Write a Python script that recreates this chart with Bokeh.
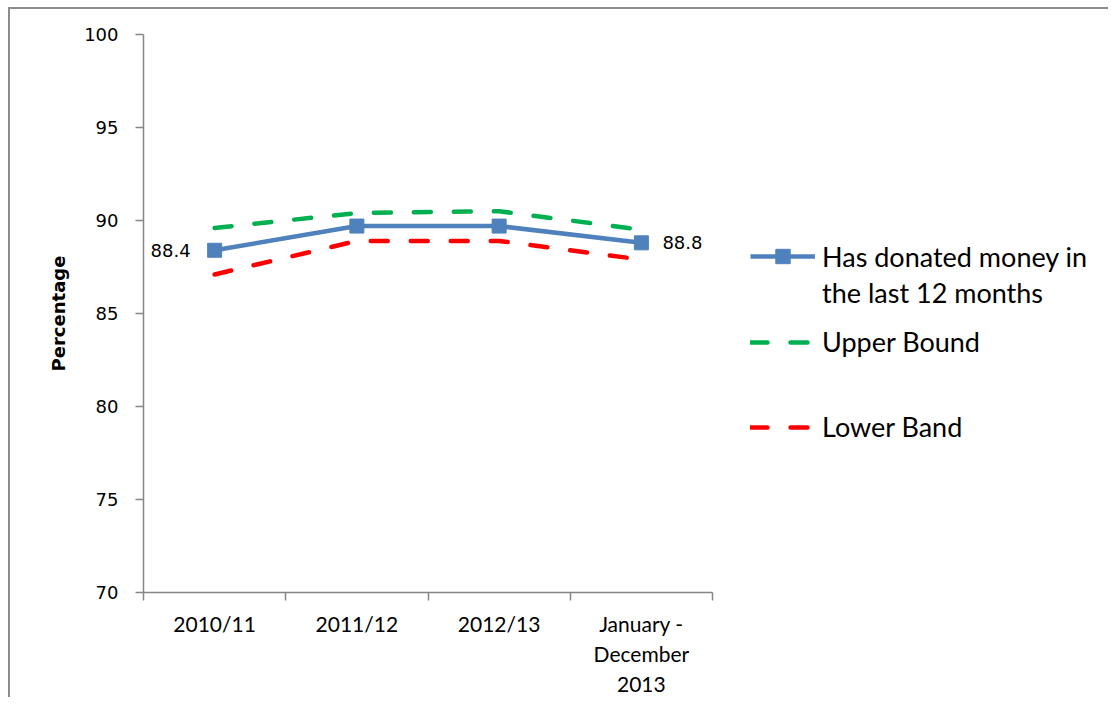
from bokeh.plotting import figure
from bokeh.models import FixedTicker, Legend, LegendItem, Range1d, ColumnDataSource
from bokeh.core.properties import value
from bokeh.embed import file_html
from bokeh.resources import INLINE

categories = ["2010/11", "2011/12", "2012/13", "January -\nDecember\n2013"]
donated = [88.4, 89.7, 89.7, 88.8]
upper = [89.6, 90.4, 90.5, 89.5]
lower = [87.1, 88.9, 88.9, 87.9]
y_ticks = [70, 75, 80, 85, 90, 95, 100]

n = len(categories)
xpos = [i + 0.5 for i in range(n)]
boundaries = list(range(n + 1))

BLUE = "#4F81BD"
GREEN = "#00B050"
RED = "#FF0000"
AXIS = "#868686"
TICK_FONT = "DejaVu Sans"
TEXT_FONT = "Lato"

# layout: category area is 569px wide; frame extends right to host the legend
CAT_AREA = 569
FRAME_W = 950
x_end = n * FRAME_W / CAT_AREA

p = figure(width=1100, height=690, output_backend="svg", toolbar_location=None,
           x_range=Range1d(0, x_end), y_range=Range1d(70, 100),
           min_border_left=133, min_border_right=17, min_border_top=25,
           min_border_bottom=107)
p.styles = {"margin-left": "8px", "margin-top": "7px",
            "border-left": "2px solid #8c8c8c", "border-top": "2px solid #8c8c8c"}
p.outline_line_color = None
p.grid.visible = False
p.background_fill_color = "white"
p.border_fill_color = "white"

r_up = p.line(xpos, upper, line_color=GREEN, line_width=4.5, line_dash="17 23", line_cap="round")
r_lo = p.line(xpos, lower, line_color=RED, line_width=4.5, line_dash="17 23", line_cap="round")
r_blue = p.line(xpos, donated, line_color=BLUE, line_width=4.5)
r_sq = p.scatter(xpos, donated, marker="square", size=14, color=BLUE)
r_inv = p.line(xpos, donated, line_alpha=0)

# data labels for first and last point
lab_src = ColumnDataSource(dict(x=[xpos[0]], y=[donated[0]], t=[f"{donated[0]}"]))
p.text(x="x", y="y", text="t", source=lab_src, x_offset=-24, text_align="right",
       text_baseline="middle", text_font=value(TICK_FONT), text_font_size="18px",
       text_color="#000000")
lab_src2 = ColumnDataSource(dict(x=[xpos[-1]], y=[donated[-1]], t=[f"{donated[-1]}"]))
p.text(x="x", y="y", text="t", source=lab_src2, x_offset=21, text_align="left",
       text_baseline="middle", text_font=value(TICK_FONT), text_font_size="18px",
       text_color="#000000")

# y axis
ya = p.yaxis[0]
ya.ticker = FixedTicker(ticks=y_ticks)
ya.axis_line_color = AXIS
ya.axis_line_width = 1.5
ya.major_tick_line_color = AXIS
ya.major_tick_line_width = 1.5
ya.major_tick_out = 8
ya.major_tick_in = 0
ya.minor_tick_line_color = None
ya.major_label_text_font = TICK_FONT
ya.major_label_text_font_size = "18px"
ya.major_label_text_color = "#000000"
ya.major_label_standoff = 17
ya.axis_label = "Percentage"
ya.axis_label_text_font = TICK_FONT
ya.axis_label_text_font_size = "18px"
ya.axis_label_text_font_style = "bold"
ya.axis_label_text_color = "#000000"
ya.axis_label_standoff = 12

# x axis: labels at category centres, ticks at boundaries
xa = p.xaxis[0]
xa.bounds = (0, n)
xa.ticker = FixedTicker(ticks=xpos, minor_ticks=boundaries)
xa.major_label_overrides = {x: c for x, c in zip(xpos, categories)}
xa.axis_line_color = AXIS
xa.axis_line_width = 1.5
xa.major_tick_line_color = None
xa.major_tick_out = 0
xa.major_tick_in = 0
xa.minor_tick_line_color = AXIS
xa.minor_tick_line_width = 1.5
xa.minor_tick_out = 8
xa.minor_tick_in = 0
xa.major_label_text_font = TEXT_FONT
xa.major_label_text_font_size = "21px"
xa.major_label_text_color = "#000000"
xa.major_label_standoff = 10


def make_legend(items, loc, h):
    lg = Legend(items=items, location=loc, orientation="vertical",
                glyph_width=65, glyph_height=h, label_height=h,
                label_standoff=7, padding=0, margin=0, spacing=0,
                border_line_color=None, background_fill_alpha=0,
                label_text_font=TEXT_FONT, label_text_font_size="27px",
                label_text_color="#000000", label_text_baseline="middle")
    p.add_layout(lg)
    return lg


make_legend([LegendItem(label="Has donated money in", renderers=[r_blue, r_sq]),
             LegendItem(label="the last 12 months", renderers=[r_inv])], (607, 282), 36)
make_legend([LegendItem(label="Upper Bound", renderers=[r_up])], (607, 234), 30)
make_legend([LegendItem(label="Lower Band", renderers=[r_lo])], (607, 149), 30)

open("out.html", "w").write(file_html(p, INLINE))
